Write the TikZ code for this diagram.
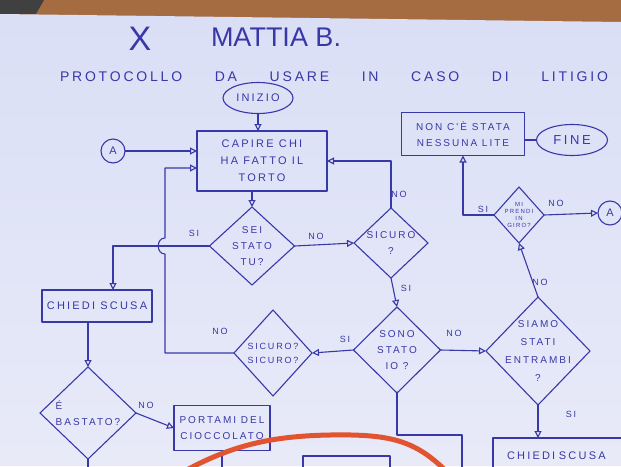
\documentclass[tikz,border=0pt]{standalone}
\usepackage{fontspec}
\setmainfont{Liberation Sans}
\newfontfamily\hand[LetterSpace=20]{Liberation Sans}
\usetikzlibrary{shapes.geometric,arrows.meta}
\definecolor{ink}{RGB}{56,56,168}
\definecolor{papertop}{RGB}{218,223,246}
\definecolor{paperbot}{RGB}{232,234,248}
\definecolor{wood}{RGB}{165,108,66}
\definecolor{marker}{RGB}{226,84,48}
\begin{document}
\begin{tikzpicture}[x=1pt,y=-1pt,
  every node/.style={text=ink, font=\hand\fontsize{11}{17}\selectfont, outer sep=0pt},
  ln/.style={draw=ink, line width=1.1pt, line join=round},
  arr/.style={ln, -{Triangle[open,length=7pt,width=7pt]}},
  boxn/.style={ln, rectangle, align=center, inner sep=2pt},
  dia/.style={ln, diamond, align=center, inner sep=-8pt, font=\hand\fontsize{10}{16}\selectfont},
  term/.style={ln, ellipse, inner sep=1pt},
  conn/.style={ln, circle, inner sep=0pt, minimum size=24pt},
  lab/.style={font=\hand\fontsize{9}{10}\selectfont, inner sep=1pt},
]
\useasboundingbox (0,0) rectangle (621,466);
% background: table and sheet of paper
\fill[wood] (0,0) rectangle (621,30);
\fill[black!75] (0,0) -- (44,0) -- (36,14) -- (0,14) -- cycle;
\shade[top color=papertop, bottom color=paperbot] (0,14) -- (621,22) -- (621,466) -- (0,466) -- cycle;

% title
\node[font=\normalfont\fontsize{34}{34}\selectfont] (xmark) at (140,39) {X};
\node[font=\normalfont\fontsize{27}{27}\selectfont] (nome) at (276,37) {MATTIA B.};
\node[font=\hand\fontsize{14}{14}\selectfont, text width=548pt, inner sep=0pt] (titolo) at (334,77)
  {PROTOCOLLO\hfill DA\hfill USARE\hfill IN\hfill CASO\hfill DI\hfill LITIGIO};

% nodes
\node[term, minimum width=70pt, minimum height=31pt] (inizio) at (258,98) {INIZIO};
\node[boxn, minimum width=130pt, minimum height=60pt] (capire) at (262,161) {CAPIRE CHI\\HA FATTO IL\\TORTO};
\node[conn] (aL) at (113,151) {A};
\node[dia, minimum width=85pt, minimum height=78pt] (sei) at (252,246) {SEI\\STATO\\TU?};
\node[dia, minimum width=74pt, minimum height=70pt] (sicuro) at (391,243) {SICURO\\?};
\node[dia, minimum width=87pt, minimum height=86pt] (sono) at (397,350) {SONO\\STATO\\IO ?};
\node[dia, minimum width=104pt, minimum height=108pt, font=\hand\fontsize{10}{18}\selectfont] (siamo) at (538,351) {SIAMO\\STATI\\ENTRAMBI\\?};
\node[dia, minimum width=50pt, minimum height=56pt, inner sep=-4pt, font=\hand\fontsize{6}{7}\selectfont] (mi) at (519,215) {MI\\PRENDI\\IN\\GIRO?};
\node[conn] (aR) at (610,213) {A};
\node[boxn, minimum width=123pt, minimum height=43pt, font=\hand\fontsize{10}{16}\selectfont] (nonce) at (463,134) {NON C'È STATA\\NESSUNA LITE};
\node[term, minimum width=71pt, minimum height=31pt, font=\hand\fontsize{13}{13}\selectfont] (fine) at (572,140) {FINE};
\node[boxn, minimum width=110pt, minimum height=32pt] (chiedi) at (97,306) {CHIEDI SCUSA};
\node[dia, minimum width=96pt, minimum height=92pt, align=left] (bastato) at (88,413) {É\\BASTATO?};
\node[boxn, minimum width=96pt, minimum height=45pt, font=\hand\fontsize{10}{16}\selectfont] (portami) at (222,428) {PORTAMI DEL\\CIOCCOLATO};
\node[dia, minimum width=78pt, minimum height=86pt, font=\hand\fontsize{9}{14}\selectfont] (sicsic) at (273,353) {SICURO?\\SICURO?};
\node[boxn, anchor=north west, inner xsep=14pt, inner ysep=14pt, text depth=40pt, text width=140pt, align=left] (chiedib) at (493,438) {CHIEDI SCUSA};
\node[boxn, anchor=north west, minimum width=87pt, minimum height=40pt] (altro) at (303,456) {};

% helper coordinates
\coordinate (hopB) at (165,254);
\coordinate (hopT) at (165,238);
\coordinate (bendA) at (462,435);
\coordinate (offA) at (462,480);
\coordinate (offB) at (222,480);
\coordinate (offC) at (88,480);

% connectors
\draw[arr] (inizio.south) -- (inizio.south |- capire.north);
\draw[arr] (aL) -- (aL -| capire.west);
\draw[arr] (sei.north |- capire.south) -- (sei.north);
\draw[arr] (sei.west) -| ([xshift=16pt]chiedi.north);
\draw[arr] (sei.east) -- (sicuro.west);
\draw[arr] (sicuro.north) |- (capire.east);
\draw[arr] (sicuro.south) -- (sono.north);
\draw[arr] (sono.west) -- (sicsic.east);
\draw[arr] (sono.east) -- (siamo.west);
\draw[ln] (sono.south) |- (bendA) -- (offA);
\draw[arr] (siamo.north) -- (mi.south);
\draw[arr] (siamo.south) -- (siamo.south |- chiedib.north);
\draw[arr] (mi.east) -- (aR.west);
\draw[arr] (mi.west) -| (nonce.south);
\draw[ln] (nonce.east |- fine.west) -- (fine.west);
\draw[arr] (sicsic.west) -| (hopB) .. controls (156,254) and (156,238) .. (hopT) |- ([yshift=-7pt]capire.west);
\draw[arr] (bastato.north |- chiedi.south) -- (bastato.north);
\draw[arr] (bastato.east) -- (portami.west);
\draw[ln] (portami.south) -- (offB);
\draw[ln] (bastato.south) -- (offC);

% labels
\node[lab] (l1) at (194,233) {SI};
\node[lab] (l2) at (316,236) {NO};
\node[lab] (l3) at (399,194) {NO};
\node[lab] (l4) at (406,288) {SI};
\node[lab] (l5) at (345,339) {SI};
\node[lab] (l6) at (454,333) {NO};
\node[lab] (l7) at (540,282) {NO};
\node[lab] (l8) at (571,414) {SI};
\node[lab] (l9) at (556,203) {NO};
\node[lab] (l10) at (483,209) {SI};
\node[lab] (l11) at (220,331) {NO};
\node[lab] (l12) at (146,405) {NO};

% red marker stroke
\draw[marker, line width=5pt, line cap=round] (183,472) .. controls (230,446) and (270,436) .. (330,435) .. controls (390,434) and (415,440) .. (447,472);
\end{tikzpicture}
\end{document}
